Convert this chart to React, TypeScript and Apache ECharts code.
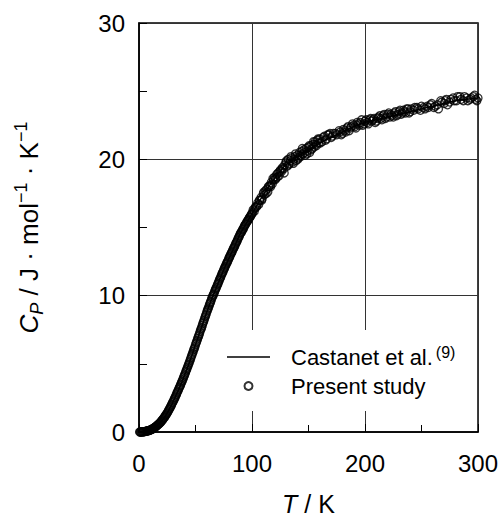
import React, { useEffect, useRef } from "react";
import * as echarts from "echarts";

// Castanet et al. reference curve
const castanetT = [0, 5, 10, 15, 20, 25, 30, 35, 40, 45, 50, 55, 60, 65, 70, 75, 80, 85, 90, 95, 100, 110, 120, 130, 140, 150, 160, 170, 180, 190, 200, 210, 220, 230, 240, 250, 260, 270, 280, 290, 300];
const castanetCp = [0, 0.03, 0.15, 0.4, 0.8, 1.4, 2.2, 3.1, 4.1, 5.2, 6.4, 7.6, 8.8, 9.9, 10.9, 11.9, 12.8, 13.7, 14.6, 15.3, 16.0, 17.4, 18.6, 19.6, 20.2, 20.7, 21.2, 21.6, 22.0, 22.4, 22.7, 22.9, 23.1, 23.3, 23.5, 23.7, 23.9, 24.1, 24.3, 24.4, 24.5];

// Present study, run 1
const measuredT = [
  1, 2, 3, 4, 5, 6, 7, 8, 9, 10, 11, 12, 13, 14, 15, 16, 17, 18, 19, 20,
  21, 22, 23, 24, 25, 26, 27, 28, 29, 30, 31, 32, 33, 34, 35, 36, 37, 38, 39, 40,
  41, 42, 43, 44, 45, 46, 47, 48, 49, 50, 51, 52, 53, 54, 55, 56, 57, 58, 59, 60,
  61, 62, 63, 64, 65, 66, 67, 68, 69, 70, 71, 72, 73, 74, 75, 76, 77, 78, 79, 80,
  81, 82, 83, 84, 85, 86, 87, 88, 89, 90, 91, 92, 93, 94, 95, 96, 97, 98, 99, 100,
  101, 102, 103, 104, 105, 106, 107, 108, 109, 110, 111, 112, 113, 114, 115, 116, 117, 118, 119, 120,
  121, 122, 123, 124, 125, 126, 127, 128, 129, 130, 131, 132, 133, 134, 135, 136, 137, 138, 139, 140,
  141, 142, 143, 144, 145, 146, 147, 148, 149, 150, 151, 152, 153, 154, 155, 156, 157, 158, 159, 160,
  162, 164, 166, 168, 170, 172, 175, 178, 180, 182, 184, 186, 188, 190, 192, 194, 196, 198, 200,
  202, 204, 206, 208, 210, 212, 214, 216, 218, 220, 222, 224, 226, 228, 230, 232, 234, 236, 238, 240,
  243, 246, 249, 252, 255, 258, 261, 264, 267, 270, 272, 275, 278, 281, 284, 287, 290, 293, 296, 299, 300
];
const measuredCp = [
  0.0, 0.0, 0.01, 0.02, 0.03, 0.05, 0.07, 0.09, 0.12, 0.15, 0.19, 0.23, 0.28, 0.34, 0.4, 0.47, 0.55, 0.63, 0.71, 0.8,
  0.91, 1.03, 1.15, 1.27, 1.4, 1.55, 1.7, 1.86, 2.03, 2.2, 2.38, 2.55, 2.74, 2.93, 3.12, 3.3, 3.5, 3.71, 3.9, 4.12,
  4.33, 4.55, 4.76, 4.98, 5.21, 5.45, 5.68, 5.92, 6.15, 6.4, 6.62, 6.87, 7.1, 7.35, 7.58, 7.83, 8.07, 8.3, 8.55, 8.8,
  9.02, 9.25, 9.47, 9.7, 9.92, 10.1, 10.32, 10.52, 10.71, 10.9, 11.12, 11.3, 11.52, 11.7, 11.9, 12.08, 12.27, 12.45, 12.62, 12.82,
  13.0, 13.17, 13.35, 13.52, 13.7, 13.88, 14.05, 14.25, 14.42, 14.6, 14.72, 14.88, 15.05, 15.2, 15.33, 15.48, 15.6, 15.75, 15.88, 16.0,
  16.3, 16.2, 16.5, 16.5, 16.8, 16.7, 17.0, 17.2, 17.1, 17.5, 17.4, 17.7, 17.8, 17.6, 18.0, 18.1, 18.3, 18.2, 18.5, 18.7,
  18.6, 18.9, 19.0, 18.8, 19.2, 19.1, 19.4, 19.3, 19.6, 19.8, 19.5, 20.0, 19.7, 19.9, 20.1, 19.8, 20.0, 20.2, 19.9, 20.3,
  20.1, 20.5, 20.2, 20.6, 20.4, 20.7, 20.3, 20.8, 20.6, 20.9, 20.5, 21.0, 20.8, 21.1, 20.9, 21.3, 21.0, 21.4, 21.2, 21.5,
  21.3, 21.7, 21.5, 21.8, 21.6, 21.9, 21.8, 22.0, 21.9, 22.1, 22.3, 22.1, 22.4, 22.5, 22.3, 22.6, 22.7, 22.5, 22.8,
  22.7, 22.9, 22.8, 23.0, 22.8, 23.1, 23.0, 23.2, 23.0, 23.3, 23.1, 23.2, 23.4, 23.2, 23.5, 23.3, 23.6, 23.4, 23.7, 23.5,
  23.6, 23.8, 23.6, 23.8, 23.9, 24.0, 23.8, 24.0, 24.3, 24.1, 24.4, 24.2, 24.5, 24.3, 24.6, 24.3, 24.5, 24.4, 24.6, 24.3, 24.5
];

// Present study, run 2 (low temperature)
const measuredT2 = [
  0.5, 1.5, 2.5, 3.5, 4.5, 5.5, 6.5, 7.5, 8.5, 9.5, 10.5, 11.5, 12.5, 13.5, 14.5, 15.5, 16.5, 17.5, 18.5, 19.5,
  20.5, 21.5, 22.5, 23.5, 24.5, 25.5, 26.5, 27.5, 28.5, 29.5, 30.5, 31.5, 32.5, 33.5, 34.5, 35.5, 36.5, 37.5, 38.5, 39.5,
  40.5, 41.5, 42.5, 43.5, 44.5, 45.5, 46.5, 47.5, 48.5, 49.5, 50.5, 51.5, 52.5, 53.5, 54.5, 55.5, 56.5, 57.5, 58.5, 59.5,
  60.5, 61.5, 62.5, 63.5, 64.5, 65.5, 66.5, 67.5, 68.5, 69.5, 70.5, 71.5, 72.5, 73.5, 74.5, 75.5, 76.5, 77.5, 78.5, 79.5,
  80.5, 81.5, 82.5, 83.5, 84.5, 85.5, 86.5, 87.5, 88.5, 89.5, 90.5, 91.5, 92.5, 93.5, 94.5, 95.5, 96.5, 97.5, 98.5, 99.5
];
const measuredCp2 = [
  0.0, 0.0, 0.01, 0.01, 0.03, 0.04, 0.06, 0.08, 0.1, 0.13, 0.17, 0.21, 0.26, 0.31, 0.37, 0.44, 0.52, 0.59, 0.66, 0.76,
  0.87, 0.97, 1.08, 1.22, 1.34, 1.47, 1.63, 1.78, 1.94, 2.13, 2.28, 2.48, 2.64, 2.85, 3.02, 3.22, 3.4, 3.61, 3.8, 4.02,
  4.21, 4.45, 4.65, 4.88, 5.09, 5.34, 5.57, 5.79, 6.05, 6.26, 6.52, 6.74, 6.99, 7.21, 7.48, 7.69, 7.96, 8.18, 8.44, 8.66,
  8.92, 9.12, 9.37, 9.57, 9.82, 10.02, 10.2, 10.43, 10.6, 10.82, 11.0, 11.22, 11.4, 11.62, 11.79, 12.0, 12.17, 12.37, 12.53, 12.74,
  12.9, 13.1, 13.25, 13.45, 13.6, 13.8, 13.96, 14.16, 14.32, 14.52, 14.65, 14.82, 14.95, 15.14, 15.25, 15.42, 15.53, 15.7, 15.8, 15.97
];

// Present study, run 3 (high temperature)
const measuredT3 = [
  100.5, 102.5, 104.5, 106.5, 108.5, 110.5, 112.5, 114.5, 116.5, 118.5, 120.5, 122.5, 124.5, 126.5, 128.5, 130.5, 132.5, 134.5, 136.5, 138.5,
  140.5, 142.5, 144.5, 146.5, 148.5, 150.5, 152.5, 154.5, 156.5, 158.5, 160.5, 163, 165, 167, 169, 171, 174, 177, 179, 181,
  183, 185, 187, 189, 191, 193, 195, 197, 199, 201, 203, 205, 207, 209, 211, 213, 215, 217, 219, 221,
  223, 225, 227, 229, 231, 233, 235, 237, 239, 241, 244, 247, 250, 253, 256, 259, 262, 265, 268, 271,
  273, 276, 279, 282, 285, 288, 291, 294, 297, 298
];
const measuredCp3 = [
  16.1, 16.4, 16.6, 17.0, 17.0, 17.6, 17.5, 18.0, 18.0, 18.6, 18.5, 18.7, 19.1, 19.3, 19.0, 19.9, 19.6, 20.2, 19.7, 20.4,
  20.0, 20.3, 20.8, 20.5, 20.4, 21.0, 20.7, 21.3, 21.1, 21.5, 21.2, 21.6, 21.4, 21.8, 21.9, 21.7, 21.9, 22.1, 21.8, 22.2,
  22.0, 22.4, 22.3, 22.6, 22.4, 22.7, 22.5, 22.9, 22.6, 22.9, 22.6, 23.0, 22.9, 22.7, 23.0, 23.2, 22.9, 23.3, 23.1, 23.4,
  23.3, 23.1, 23.5, 23.3, 23.6, 23.4, 23.5, 23.7, 23.4, 23.7, 23.8, 23.7, 23.9, 23.7, 23.8, 24.1, 23.9, 23.7, 24.2, 24.3,
  24.0, 24.4, 24.3, 24.6, 24.4, 24.6, 24.3, 24.5, 24.7, 24.4
];

const xTickValues = [0, 100, 200, 300];
const yTickValues = [0, 10, 20, 30];

const FONT = "'Liberation Sans', Arial, sans-serif";

export default function App() {
  const ref = useRef<HTMLDivElement>(null);

  useEffect(() => {
    document.body.style.margin = "0";
    if (!ref.current) return;
    const chart = echarts.init(ref.current, undefined, { renderer: "svg" });

    const castanet = castanetT.map((t, i) => [t, castanetCp[i]]);
    const measured = [
      ...measuredT.map((t, i) => [t, measuredCp[i]]),
      ...measuredT2.map((t, i) => [t, measuredCp2[i]]),
      ...measuredT3.map((t, i) => [t, measuredCp3[i]]),
    ];

    chart.setOption({
      animation: false,
      backgroundColor: "#fff",
      textStyle: { fontFamily: FONT },
      grid: {
        left: 139,
        right: 23,
        top: 23,
        bottom: 86,
        outerBoundsMode: "none",
        containLabel: false,
        show: true,
        borderColor: "#000",
        borderWidth: 1.5,
        backgroundColor: "transparent",
      },
      legend: {
        orient: "vertical",
        left: 222,
        top: 330,
        padding: [14, 14, 14, 5],
        backgroundColor: "#fff",
        itemWidth: 43,
        itemHeight: 8,
        itemGap: 7,
        selectedMode: false,
        data: [
          { name: "Castanet", icon: "path://M0,0L100,0L100,3.6L0,3.6Z", itemStyle: { color: "#000" } },
          { name: "Present study" },
        ],
        formatter: (name: string) =>
          name === "Castanet" ? "{a|Castanet et al.}{s|(9)}" : "{a|Present study}",
        textStyle: {
          fontFamily: FONT,
          color: "#000",
          rich: {
            a: { fontSize: 22, lineHeight: 26, color: "#000", fontFamily: FONT, padding: [0, 0, 0, 16] },
            s: { fontSize: 16, lineHeight: 26, color: "#000", fontFamily: FONT, verticalAlign: "top", padding: [0, 0, 0, 3] },
          },
        },
      },
      xAxis: {
        type: "value",
        min: xTickValues[0],
        max: xTickValues[xTickValues.length - 1],
        interval: 100,
        name: "{it|T}{n| / K}",
        nameLocation: "middle",
        nameGap: 60,
        nameTextStyle: {
          lineHeight: 24,
          rich: {
            it: { fontSize: 25, lineHeight: 24, fontStyle: "italic", color: "#000", fontFamily: FONT },
            n: { fontSize: 25, lineHeight: 24, color: "#000", fontFamily: FONT },
          },
        },
        axisLine: { show: true, lineStyle: { color: "#000", width: 1.5 } },
        axisTick: { show: true, inside: true, length: 8, lineStyle: { color: "#000" } },
        minorTick: { show: true, splitNumber: 2, length: 7, lineStyle: { color: "#000" } },
        axisLabel: { fontSize: 24, color: "#000", margin: 19, fontFamily: FONT },
        splitLine: { show: true, lineStyle: { color: "#333", width: 1 } },
      },
      yAxis: {
        type: "value",
        min: yTickValues[0],
        max: yTickValues[yTickValues.length - 1],
        interval: 10,
        name: "{it|C}{sub|P}{n| / J · mol}{sup|−1}{n| · K}{sup|−1}",
        nameLocation: "middle",
        nameRotate: 90,
        nameGap: 93,
        nameTextStyle: {
          rich: {
            it: { fontSize: 26, fontStyle: "italic", color: "#000", fontFamily: FONT, lineHeight: 34, verticalAlign: "middle" },
            sub: { fontSize: 18, fontStyle: "italic", color: "#000", fontFamily: FONT, lineHeight: 34, verticalAlign: "bottom" },
            n: { fontSize: 26, color: "#000", fontFamily: FONT, lineHeight: 34, verticalAlign: "middle" },
            sup: { fontSize: 18, color: "#000", fontFamily: FONT, lineHeight: 34, verticalAlign: "top" },
          },
        },
        axisLine: { show: true, lineStyle: { color: "#000", width: 1.5 } },
        axisTick: { show: true, inside: true, length: 8, lineStyle: { color: "#000" } },
        minorTick: { show: true, splitNumber: 2, length: 8, lineStyle: { color: "#000" } },
        axisLabel: { fontSize: 24, color: "#000", margin: 14, fontFamily: FONT },
        splitLine: { show: true, lineStyle: { color: "#333", width: 1 } },
      },
      series: [
        {
          name: "Castanet",
          type: "line",
          data: castanet,
          smooth: true,
          symbol: "none",
          showSymbol: false,
          lineStyle: { color: "#000", width: 1.5 },
          itemStyle: { color: "#000" },
          z: 3,
        },
        {
          name: "Present study",
          type: "scatter",
          data: measured,
          symbol: "circle",
          symbolSize: 8,
          itemStyle: { color: "rgba(255,255,255,0)", borderColor: "#000", borderWidth: 1.3 },
          z: 4,
        },
      ],
    });

    return () => chart.dispose();
  }, []);

  return <div ref={ref} style={{ width: 501, height: 518 }} />;
}
